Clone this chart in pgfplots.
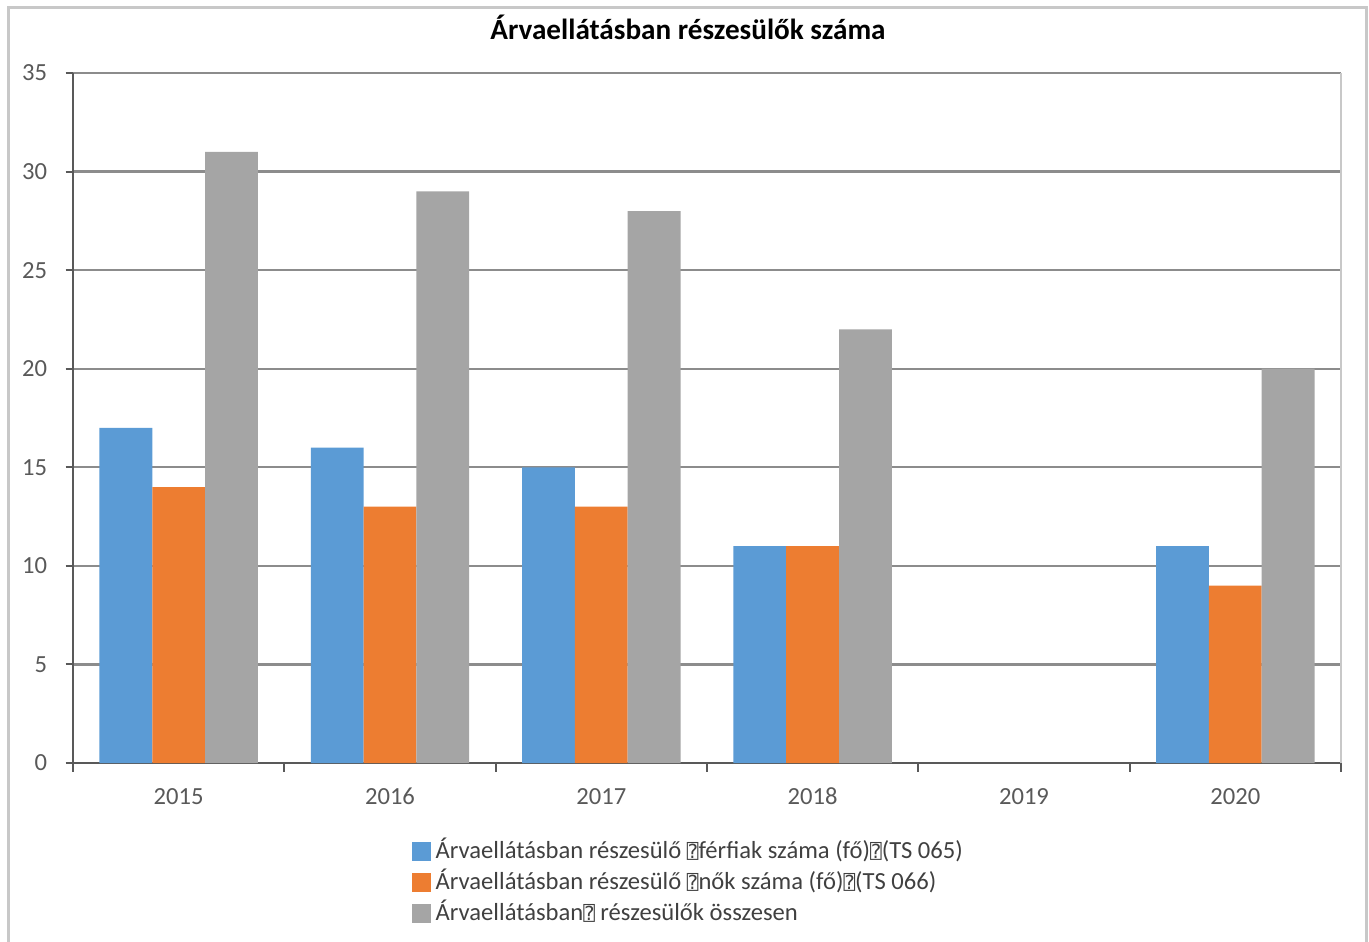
\documentclass[border=0pt]{standalone}
\usepackage{fontspec}
\setmainfont{Carlito}
\newfontfamily\dvm{DejaVu Sans Mono}
\usepackage{pgfplots}
\pgfplotsset{compat=1.18}

\definecolor{ferfi}{HTML}{5B9BD5}
\definecolor{no}{HTML}{ED7D31}
\definecolor{ossz}{HTML}{A5A5A5}
\definecolor{gridc}{HTML}{8C8C8C}
\definecolor{axisc}{HTML}{595959}
\definecolor{framec}{HTML}{C8C8C8}
\definecolor{txt}{HTML}{404040}

\newcommand{\qq}{{\dvm\fontsize{5.5pt}{5.5pt}\selectfont ⍰}}

\begin{document}
\begin{tikzpicture}
\useasboundingbox (0,0) rectangle (136.9mm,94.1mm);
\draw[framec, line width=0.3mm] (0.8mm,-1mm) -- (0.8mm,93.3mm) -- (136.6mm,93.3mm) -- (136.6mm,-1mm);
\begin{axis}[
    at={(7.3mm,17.8mm)}, anchor=south west,
    scale only axis,
    width=126.8mm, height=69mm,
    ybar=0pt, bar width=0.25,
    xmin=-0.5, xmax=5.5,
    ymin=0, ymax=35,
    xtick={0,1,2,3,4,5},
    xticklabels={2015,2016,2017,2018,2019,2020},
    minor xtick={-0.5,0.5,1.5,2.5,3.5,4.5,5.5},
    ytick={0,5,...,35},
    /pgf/number format/assume math mode=true,
    axis x line*=bottom, axis y line*=left,
    axis line style={axisc, line width=0.55pt},
    tick align=outside,
    major tick length=0.75mm, minor tick length=0.85mm,
    tick style={axisc, line width=0.55pt},
    major x tick style={draw=none},
    ymajorgrids,
    grid style={gridc, line width=0.65pt},
    ticklabel style={font=\fontsize{7pt}{8pt}\selectfont, text=axisc},
    yticklabel style={xshift=-0.6mm},
    xticklabel style={yshift=0.5mm, text height=1.6ex, text depth=0.2ex},
    title={Árvaellátásban részesülők száma},
    title style={at={(0.485,1.036)}, anchor=center, font=\bfseries\fontsize{8.3pt}{10pt}\selectfont, text=black},
    legend style={at={(0.2665,-0.098)}, anchor=north west, draw=none, fill=none,
        font=\fontsize{7pt}{8pt}\selectfont, text=txt,
        row sep=-0.9mm, inner sep=0pt,
        nodes={inner xsep=0.5mm}},
    legend cell align=left,
    legend image code/.code={\fill[#1] (0mm,-0.95mm) rectangle (1.9mm,0.95mm);},
    clip=false,
]
\addplot[fill=ferfi, draw=none] coordinates {(0,17) (1,16) (2,15) (3,11) (5,11)};
\addlegendentry{Árvaellátásban részesülő \qq férfiak száma (fő)\qq(TS 065)}
\addplot[fill=no, draw=none] coordinates {(0,14) (1,13) (2,13) (3,11) (5,9)};
\addlegendentry{Árvaellátásban részesülő \qq nők száma (fő)\qq(TS 066)}
\addplot[fill=ossz, draw=none] coordinates {(0,31) (1,29) (2,28) (3,22) (5,20)};
\addlegendentry{Árvaellátásban\qq\ részesülők összesen}
\draw[framec, line width=0.5pt] (rel axis cs:1,0) -- (rel axis cs:1,1);
\end{axis}
\end{tikzpicture}
\end{document}
